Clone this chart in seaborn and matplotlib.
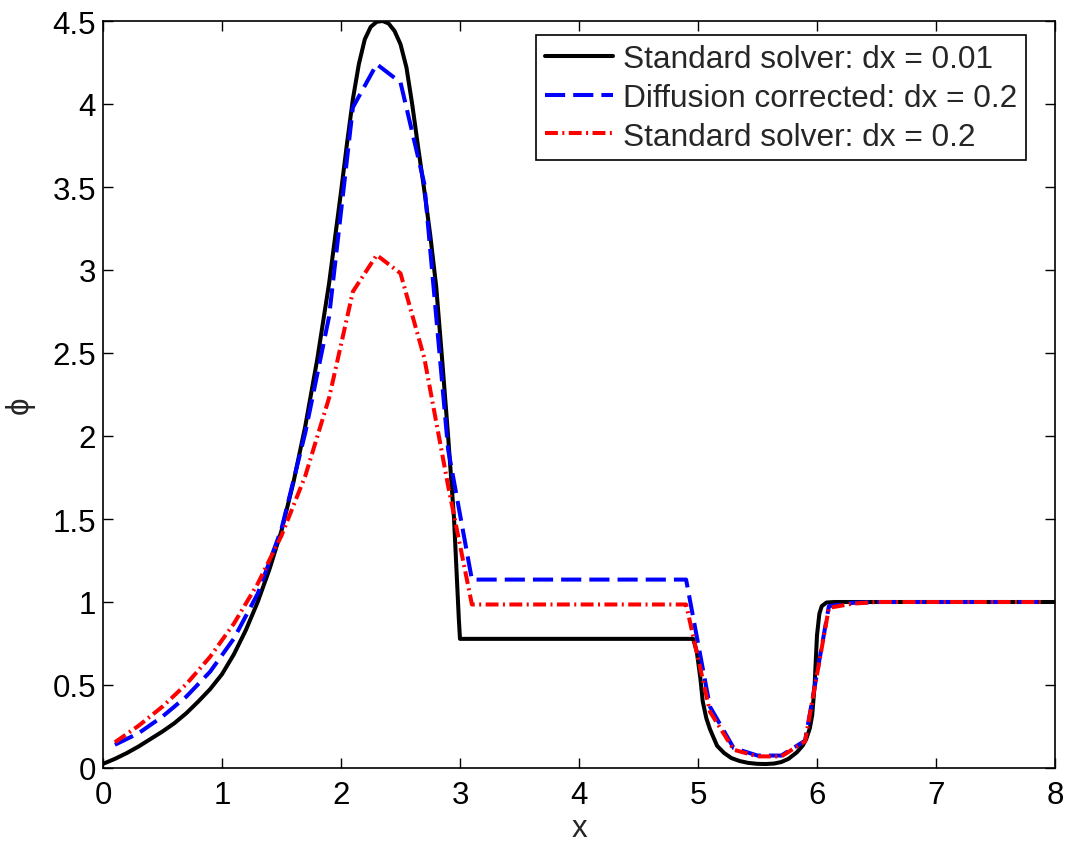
import matplotlib
matplotlib.use("Agg")
import matplotlib.pyplot as plt
import seaborn as sns
from matplotlib.ticker import FuncFormatter

# Fine-grid reference solution (dx = 0.01), sampled along the curve
fine_x = [0.00, 0.10, 0.20, 0.30, 0.40, 0.50, 0.60, 0.70, 0.80, 0.90,
          1.00, 1.10, 1.20, 1.30, 1.40, 1.50, 1.60, 1.70, 1.80, 1.90,
          2.00, 2.05, 2.10, 2.15, 2.20, 2.25, 2.30, 2.35, 2.40, 2.45,
          2.50, 2.55, 2.60, 2.65, 2.70, 2.75, 2.80, 2.85, 2.90, 2.95,
          2.99, 3.00, 4.96, 4.99, 5.02, 5.04, 5.07, 5.10, 5.16, 5.22,
          5.28, 5.35, 5.42, 5.50, 5.57, 5.64, 5.70, 5.76, 5.83, 5.88,
          5.91, 5.94, 5.96, 5.98, 6.00, 6.02, 6.04, 6.08, 6.15, 8.00]
fine_phi = [0.025, 0.055, 0.090, 0.130, 0.175, 0.220, 0.270, 0.330, 0.400, 0.475,
            0.565, 0.685, 0.830, 1.000, 1.200, 1.430, 1.720, 2.060, 2.460, 2.920,
            3.470, 3.760, 4.030, 4.240, 4.390, 4.465, 4.495, 4.500, 4.485, 4.440,
            4.360, 4.220, 3.990, 3.730, 3.480, 3.210, 2.900, 2.460, 2.000, 1.500,
            0.900, 0.778, 0.778, 0.700, 0.540, 0.400, 0.300, 0.235, 0.134, 0.090,
            0.060, 0.042, 0.031, 0.025, 0.024, 0.027, 0.036, 0.055, 0.094, 0.135,
            0.175, 0.240, 0.320, 0.500, 0.800, 0.930, 0.975, 0.997, 1.000, 1.000]

# Coarse grid (dx = 0.2) cell centres
coarse_x = [0.1, 0.3, 0.5, 0.7, 0.9, 1.1, 1.3, 1.5, 1.7, 1.9,
            2.1, 2.3, 2.5, 2.7, 2.9, 3.1, 3.3, 3.5, 3.7, 3.9,
            4.1, 4.3, 4.5, 4.7, 4.9, 5.1, 5.3, 5.5, 5.7, 5.9,
            6.1, 6.3, 6.5, 6.7, 6.9, 7.1, 7.3, 7.5, 7.7, 7.9]

# Diffusion-corrected solver on the coarse grid
corrected_phi = [0.140, 0.210, 0.310, 0.430, 0.580, 0.780, 1.050, 1.440, 2.020, 2.720,
                 3.980, 4.240, 4.130, 3.520, 1.920, 1.135, 1.135, 1.135, 1.135, 1.135,
                 1.135, 1.135, 1.135, 1.135, 1.135, 0.370, 0.120, 0.075, 0.075, 0.165,
                 0.975, 0.995, 1.000, 1.000, 1.000, 1.000, 1.000, 1.000, 1.000, 1.000]

# Standard solver on the coarse grid
standard_phi = [0.155, 0.255, 0.370, 0.505, 0.670, 0.870, 1.110, 1.400, 1.760, 2.230,
                2.870, 3.090, 2.980, 2.470, 1.700, 0.985, 0.985, 0.985, 0.985, 0.985,
                0.985, 0.985, 0.985, 0.985, 0.985, 0.340, 0.110, 0.070, 0.070, 0.160,
                0.965, 0.990, 1.000, 1.000, 1.000, 1.000, 1.000, 1.000, 1.000, 1.000]

labels = ["Standard solver: dx = 0.01",
          "Diffusion corrected: dx = 0.2",
          "Standard solver: dx = 0.2"]

sns.set_style("ticks")
plt.rcParams["font.family"] = ["Liberation Sans", "DejaVu Sans"]
plt.rcParams["font.size"] = 22

fig = plt.figure(figsize=(10.71, 8.45), dpi=100)
ax = fig.add_axes([103 / 1071, 76 / 845, 952 / 1071, 747 / 845])

lw = 2.9
sns.lineplot(x=fine_x, y=fine_phi, ax=ax, color="black", lw=lw,
             label=labels[0], sort=False, estimator=None)
sns.lineplot(x=coarse_x, y=corrected_phi, ax=ax, color="#0000ff", lw=lw,
             label=labels[1], sort=False, estimator=None)
ax.lines[-1].set_dashes((5.0, 2.0))
sns.lineplot(x=coarse_x, y=standard_phi, ax=ax, color="#ff0000", lw=lw,
             label=labels[2], sort=False, estimator=None)
ax.lines[-1].set_dashes((3.2, 1.1, 0.5, 1.1))
for ln in ax.lines:
    ln.set_solid_joinstyle("round")
    ln.set_dash_joinstyle("round")

ax.set_xlim(0, 8)
ax.set_ylim(0, 4.5)
ax.set_xticks(range(0, 9))
ax.set_yticks([0, 0.5, 1, 1.5, 2, 2.5, 3, 3.5, 4, 4.5])
fmt = FuncFormatter(lambda v, p: f"{v:g}")
ax.xaxis.set_major_formatter(fmt)
ax.yaxis.set_major_formatter(fmt)
ax.tick_params(direction="in", length=7, width=1.0, top=True, right=True,
               labelsize=22.5, colors="black")
ax.tick_params(axis="x", pad=9)
ax.tick_params(axis="y", pad=5)
for sp in ax.spines.values():
    sp.set_visible(True)
    sp.set_color("black")
    sp.set_linewidth(1.2)

ax.set_xlabel("x", fontsize=22.5)
ax.set_ylabel("\u03d5", fontsize=22.5)
ax.xaxis.set_label_coords(0.5, -0.06)
ax.yaxis.set_label_coords(-0.072, 0.487)

leg = ax.legend(loc="upper right", bbox_to_anchor=(0.9695, 0.9813),
                borderaxespad=0, fontsize=22.8, handlelength=2.15,
                handletextpad=0.3, labelspacing=0.28, borderpad=0.28,
                fancybox=False, framealpha=1, edgecolor="black")
leg.get_frame().set_linewidth(1.2)

fig.savefig("out.png", dpi=100)
